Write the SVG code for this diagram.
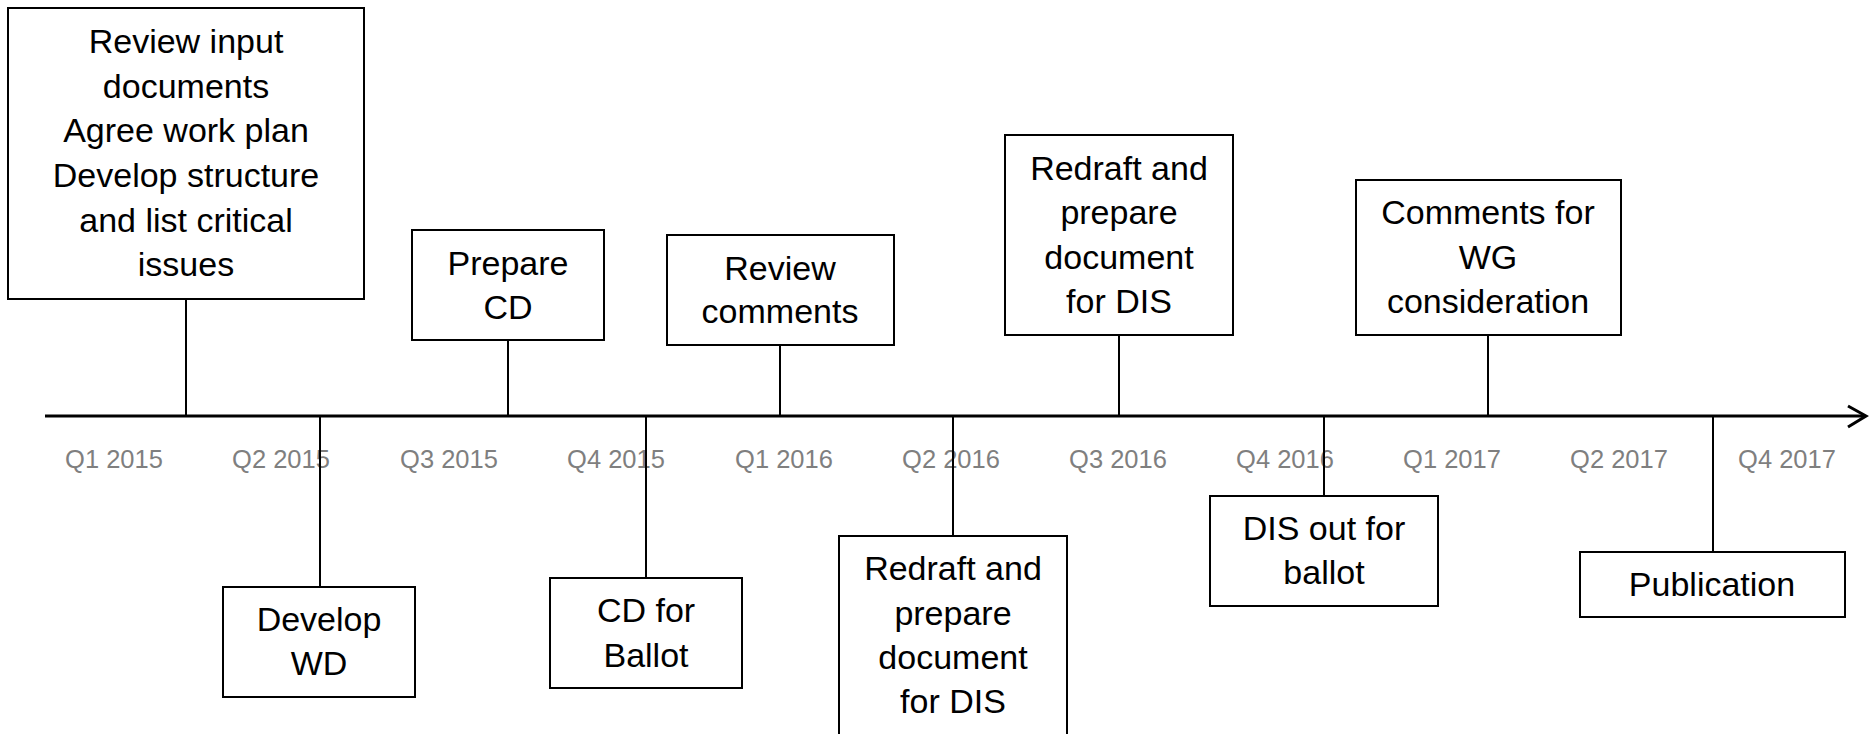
<svg xmlns="http://www.w3.org/2000/svg" width="1870" height="734" viewBox="0 0 1870 734">
<style>
.box{fill:#fff;stroke:#000;stroke-width:2}
.t{font-family:"Liberation Sans",Arial,sans-serif;font-size:34px;fill:#000;text-anchor:middle}
.q{font-family:"Liberation Sans",Arial,sans-serif;font-size:25.5px;fill:#7f7f7f;text-anchor:middle}
.c{stroke:#000;stroke-width:2;fill:none}
.axis{stroke:#000;stroke-width:3;fill:none}
</style>
<rect width="1870" height="734" fill="#fff"/>
<g id="axis-labels">
<text class="q" x="114" y="468">Q1 2015</text>
<text class="q" x="281" y="468">Q2 2015</text>
<text class="q" x="449" y="468">Q3 2015</text>
<text class="q" x="616" y="468">Q4 2015</text>
<text class="q" x="784" y="468">Q1 2016</text>
<text class="q" x="951" y="468">Q2 2016</text>
<text class="q" x="1118" y="468">Q3 2016</text>
<text class="q" x="1285" y="468">Q4 2016</text>
<text class="q" x="1452" y="468">Q1 2017</text>
<text class="q" x="1619" y="468">Q2 2017</text>
<text class="q" x="1787" y="468">Q4 2017</text>
</g>
<g id="connectors">
<line class="axis" x1="45" y1="416" x2="1864" y2="416"/>
<polyline class="axis" points="1848,406 1866,416 1848,427"/>
<line class="c" x1="186" y1="299" x2="186" y2="416"/>
<line class="c" x1="320" y1="416" x2="320" y2="587"/>
<line class="c" x1="508" y1="340" x2="508" y2="416"/>
<line class="c" x1="646" y1="416" x2="646" y2="578"/>
<line class="c" x1="780" y1="345" x2="780" y2="416"/>
<line class="c" x1="953" y1="416" x2="953" y2="536"/>
<line class="c" x1="1119" y1="335" x2="1119" y2="416"/>
<line class="c" x1="1324" y1="416" x2="1324" y2="496"/>
<line class="c" x1="1488" y1="335" x2="1488" y2="416"/>
<line class="c" x1="1713" y1="416" x2="1713" y2="552"/>
</g>
<g id="n1">
<rect class="box" x="8" y="8" width="356" height="291"/>
<text class="t" x="186" y="53">Review input</text>
<text class="t" x="186" y="98">documents</text>
<text class="t" x="186" y="142">Agree work plan</text>
<text class="t" x="186" y="187">Develop structure</text>
<text class="t" x="186" y="232">and list critical</text>
<text class="t" x="186" y="276">issues</text>
</g>
<g id="n2">
<rect class="box" x="412" y="230" width="192" height="110"/>
<text class="t" x="508" y="275">Prepare</text>
<text class="t" x="508" y="319">CD</text>
</g>
<g id="n3">
<rect class="box" x="223" y="587" width="192" height="110"/>
<text class="t" x="319" y="631">Develop</text>
<text class="t" x="319" y="675">WD</text>
</g>
<g id="n4">
<rect class="box" x="550" y="578" width="192" height="110"/>
<text class="t" x="646" y="622">CD for</text>
<text class="t" x="646" y="667">Ballot</text>
</g>
<g id="n5">
<rect class="box" x="667" y="235" width="227" height="110"/>
<text class="t" x="780" y="280">Review</text>
<text class="t" x="780" y="323">comments</text>
</g>
<g id="n6">
<rect class="box" x="839" y="536" width="228" height="220"/>
<text class="t" x="953" y="580">Redraft and</text>
<text class="t" x="953" y="625">prepare</text>
<text class="t" x="953" y="669">document</text>
<text class="t" x="953" y="713">for DIS</text>
</g>
<g id="n7">
<rect class="box" x="1005" y="135" width="228" height="200"/>
<text class="t" x="1119" y="180">Redraft and</text>
<text class="t" x="1119" y="224">prepare</text>
<text class="t" x="1119" y="269">document</text>
<text class="t" x="1119" y="313">for DIS</text>
</g>
<g id="n8">
<rect class="box" x="1210" y="496" width="228" height="110"/>
<text class="t" x="1324" y="540">DIS out for</text>
<text class="t" x="1324" y="584">ballot</text>
</g>
<g id="n9">
<rect class="box" x="1356" y="180" width="265" height="155"/>
<text class="t" x="1488" y="224">Comments for</text>
<text class="t" x="1488" y="269">WG</text>
<text class="t" x="1488" y="313">consideration</text>
</g>
<g id="n10">
<rect class="box" x="1580" y="552" width="265" height="65"/>
<text class="t" x="1712" y="596">Publication</text>
</g>
</svg>
